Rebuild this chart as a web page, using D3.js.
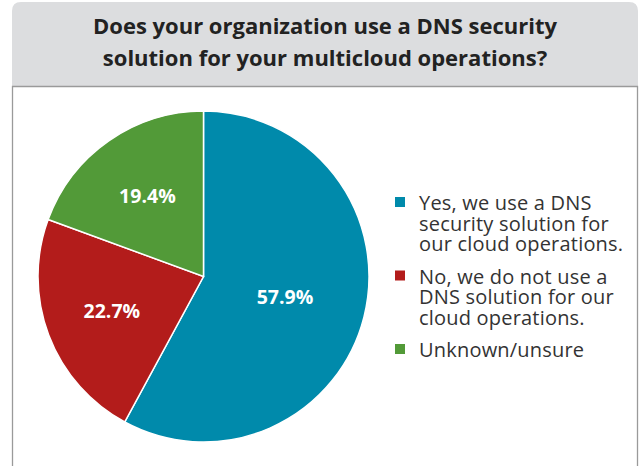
<!DOCTYPE html>
<html><head><meta charset="utf-8">
<script src="https://cdn.jsdelivr.net/npm/d3@7"></script>
<style>body{margin:0;background:#fff}svg{display:block}</style>
</head><body>
<script>
const titleLines = ["Does your organization use a DNS security", "solution for your multicloud operations?"];
const categories = ["Yes, we use a DNS security solution for our cloud operations.", "No, we do not use a DNS solution for our cloud operations.", "Unknown/unsure"];
const legendLines = [["Yes, we use a DNS", "security solution for", "our cloud operations."], ["No, we do not use a", "DNS solution for our", "cloud operations."], ["Unknown/unsure"]];
const values = [57.9, 22.7, 19.4];
const colors = ["#008aab", "#b31c1b", "#529a38"];

const W = 644, H = 466;
const svg = d3.select("body").append("svg").attr("width", W).attr("height", H);

// header box with rounded top corners
const hx = 12, hy = 2, hw = 626, hh = 84, r = 9;
svg.append("path")
  .attr("d", `M${hx},${hy+hh} L${hx},${hy+r} Q${hx},${hy} ${hx+r},${hy} L${hx+hw-r},${hy} Q${hx+hw},${hy} ${hx+hw},${hy+r} L${hx+hw},${hy+hh} Z`)
  .attr("fill", "#dcdddf");
// body frame
svg.append("path")
  .attr("d", `M${hx+0.5},${H+5} L${hx+0.5},${hy+hh+0.5} L${hx+hw-0.5},${hy+hh+0.5} L${hx+hw-0.5},${H+5}`)
  .attr("fill", "none").attr("stroke", "#9a9a9a").attr("stroke-width", 1.3);

svg.append("g").selectAll("text").data(titleLines).join("text")
  .attr("x", 325).attr("y", (d, i) => 33.5 + i * 32.5)
  .attr("text-anchor", "middle")
  .attr("font-family", "'Open Sans', sans-serif").attr("font-weight", 700)
  .attr("font-size", 22).attr("fill", "#222")
  .text(d => d);

const cx = 203.5, cy = 276.5, R = 165.5;
const pie = d3.pie().sort(null).value(d => d);
const arcs = pie(values);
const arc = d3.arc().innerRadius(0).outerRadius(R);
const g = svg.append("g").attr("transform", `translate(${cx},${cy})`);
g.selectAll("path").data(arcs).join("path")
  .attr("d", arc).attr("fill", (d, i) => colors[i])
  .attr("stroke", "#fff").attr("stroke-width", 1.5);

const labelArc = d => {
  const lr = d.index === 0 ? 84 : 98;
  return d3.arc().innerRadius(lr).outerRadius(lr).centroid(d);
};
g.selectAll("text").data(arcs).join("text")
  .attr("transform", d => `translate(${labelArc(d)})`)
  .attr("text-anchor", "middle").attr("dy", "0.35em")
  .attr("font-family", "'Open Sans', sans-serif").attr("font-weight", 700)
  .attr("font-size", 19.5).attr("fill", "#fff")
  .text(d => d.data.toFixed(1) + "%");

const legendTop = [210, 283.5, 357];
const lg = svg.append("g");
legendLines.forEach((lines, i) => {
  lg.append("rect").attr("x", 395).attr("y", legendTop[i] - 13).attr("width", 10).attr("height", 10).attr("fill", colors[i]);
  const t = lg.append("text").attr("x", 419).attr("y", legendTop[i])
    .attr("font-family", "'Open Sans', sans-serif").attr("font-size", 20)
    .attr("letter-spacing", 0.2).attr("fill", "#333");
  lines.forEach((l, j) => t.append("tspan").attr("x", 419).attr("dy", j === 0 ? 0 : 20.5).text(l));
});
</script>
</body></html>
